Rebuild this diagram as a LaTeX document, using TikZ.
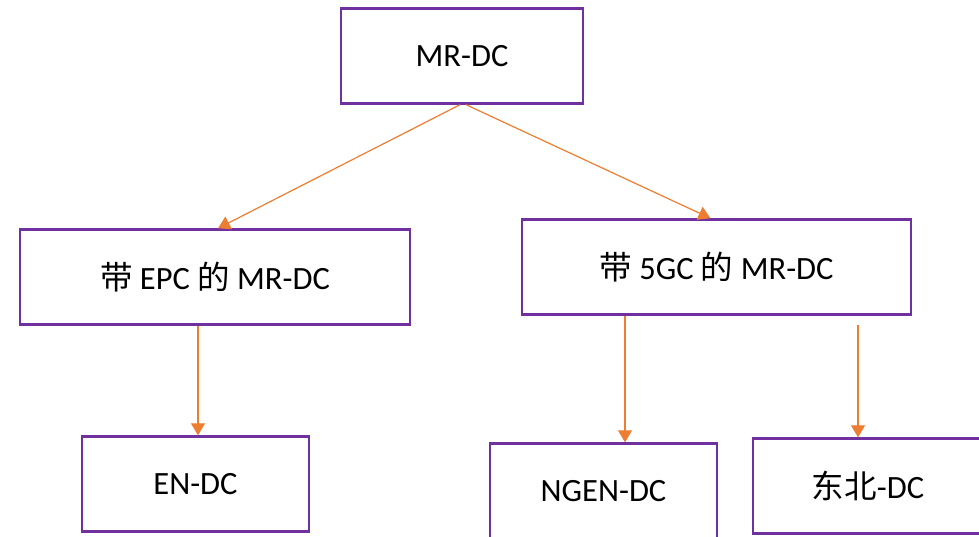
\documentclass[tikz,border=0pt]{standalone}
\usepackage{fontspec}
\setmainfont{Carlito}
\newfontfamily\cjk{Noto Sans CJK SC}
\usetikzlibrary{arrows.meta}
\definecolor{boxpurple}{HTML}{7030A0}
\definecolor{linkorange}{HTML}{ED7D31}
\begin{document}
\begin{tikzpicture}[x=1pt,y=-1pt,
  box/.style={draw=boxpurple,line width=2.4pt,fill=white,rectangle,
    minimum height=95pt,inner sep=0pt,font=\fontsize{32.5}{38}\selectfont},
  link/.style={draw=linkorange,line width=1.2pt,
    -{Triangle[width=14pt,length=12pt]},color=linkorange}]
\useasboundingbox (0,0) rectangle (979,537);
% level 0
\node[box,minimum width=242pt] (mr) at (462,56) {MR-DC};
% level 1
\node[box,minimum width=390pt] (epc) at (215,277) {{\cjk 带} EPC {\cjk 的} MR-DC};
\node[box,minimum width=389pt] (fgc) at (716.5,267) {{\cjk 带} 5GC {\cjk 的} MR-DC};
% level 2
\node[box,minimum width=227pt] (en) at (195.5,484) {EN-DC};
\node[box,minimum width=227pt] (ngen) at (603.5,491) {NGEN-DC};
\node[box,minimum width=230pt] (ne) at (868,486) {{\cjk 东北}-DC};
% connectors
\coordinate (nestart) at (858,325);
\draw[link] ([xshift=-2pt]mr.south) -- ([xshift=3pt]epc.north);
\draw[link] ([xshift=4pt]mr.south) -- ([xshift=-6pt]fgc.north);
\draw[link] ([xshift=2.5pt]en.north |- epc.south) -- ([xshift=2.5pt]en.north);
\draw[link] ([xshift=21.5pt]ngen.north |- fgc.south) -- ([xshift=21.5pt]ngen.north);
\draw[link] (nestart) -- (nestart |- ne.north);
\end{tikzpicture}
\end{document}
